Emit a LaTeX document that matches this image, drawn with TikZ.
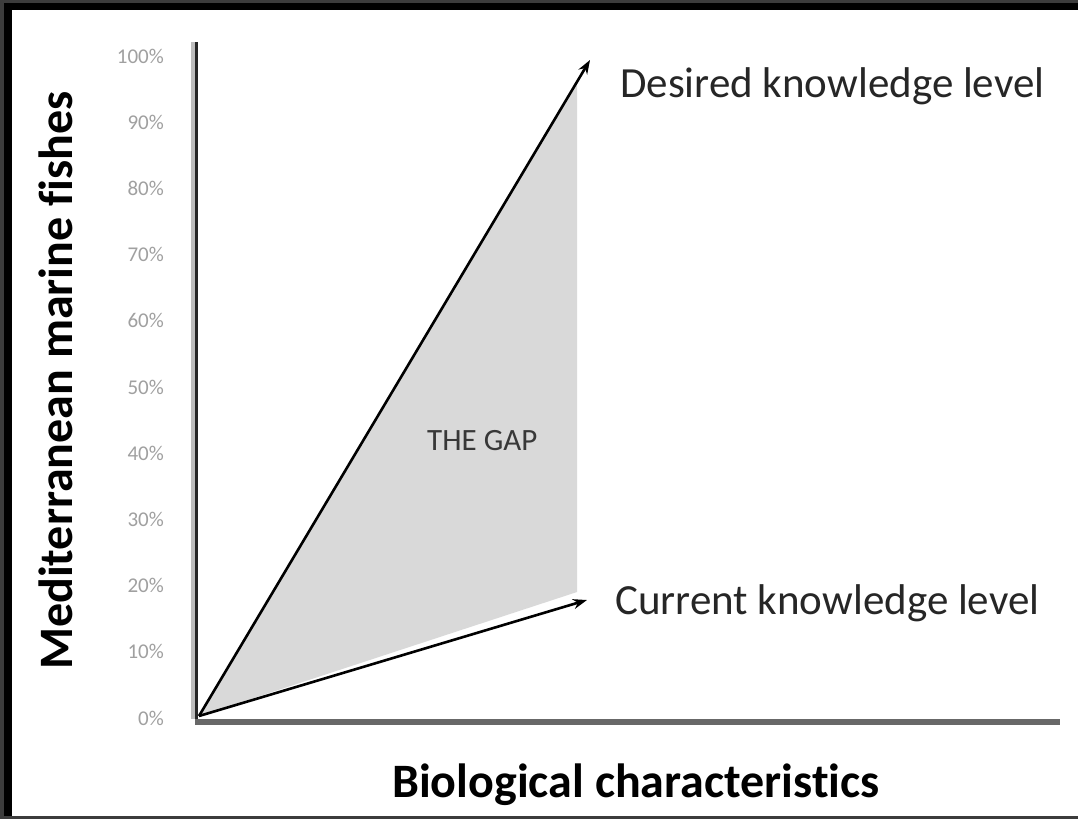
\documentclass[tikz,border=0pt]{standalone}
\usepackage{fontspec}
\setmainfont{Carlito}[Ligatures=NoCommon]
\usetikzlibrary{arrows.meta}
\definecolor{gapgray}{HTML}{D9D9D9}
\definecolor{framegray}{HTML}{3C3C3C}
\definecolor{tickgray}{HTML}{A0A0A0}
\definecolor{axisgray}{HTML}{686868}
\definecolor{shadegray}{HTML}{BDBDBD}

\begin{document}
\begin{tikzpicture}[x=1pt,y=-1pt,>={Stealth[length=14pt,width=10pt]},
    ticklabel/.style={anchor=east,inner sep=0pt,text=tickgray,font=\fontsize{21}{21}\selectfont},
    levellabel/.style={anchor=base west,inner sep=0pt,text=black!85,font=\fontsize{43}{43}\selectfont},
    axislabel/.style={anchor=base west,inner sep=0pt,font=\fontsize{48}{48}\selectfont\bfseries}]
  % Page in pixel units, with its dark frame.
  \useasboundingbox (0,0) rectangle (1078,819);
  \fill[framegray] (0,0) rectangle (1078,819);
  \fill[black] (4,3) rectangle (1078,816);
  \fill[white] (12,10) rectangle (1078,816);

  % Origin and the two arrow tips.
  \coordinate (O) at (199,716);
  \coordinate (desiredtip) at (590,60);
  \coordinate (currenttip) at (587,600);

  % The gap between desired and current knowledge.
  \fill[gapgray] (O) -- (577,82) -- (577,592) -- cycle;
  \node[anchor=base west,inner sep=0pt,text=black!78,font=\fontsize{31}{31}\selectfont]
    (gap) at (427,450) {THE GAP};

  % Axes.
  \coordinate (ytop) at (196.5,42);
  \coordinate (ybot) at (196.5,722);
  \coordinate (xend) at (1060,722);
  \draw[shadegray,line width=3.5pt] (193,42) -- (193,719);
  \draw[black!85,line width=3pt] (ytop) -- (ybot);
  \draw[axisgray,line width=5.5pt] (195,722) -- (xend);

  % Percent ticks on the vertical axis.
  \foreach \p in {0,10,...,100} {
    \node[ticklabel] (tick\p) at (164,{718-6.62*\p}) {\p\%};
  }

  % Knowledge levels.
  \draw[->,line width=2.6pt] (O) -- (desiredtip);
  \draw[->,line width=2.6pt] (O) -- (currenttip);
  \node[levellabel] (desired) at (620,97) {Desired knowledge level};
  \node[levellabel] (current) at (615,614) {Current knowledge level};

  % Axis titles.
  \node[axislabel,rotate=90] (ylabel) at (72,670) {Mediterranean marine fishes};
  \node[axislabel] (xlabel) at (392,797) {Biological characteristics};
\end{tikzpicture}
\end{document}
